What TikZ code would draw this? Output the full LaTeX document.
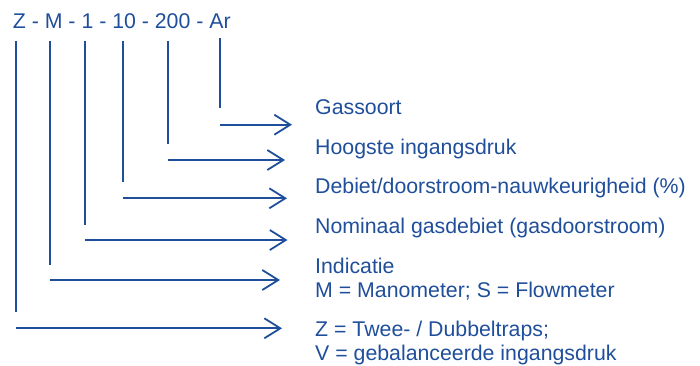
\documentclass[tikz,border=0pt]{standalone}
\usepackage{fontspec}
\setmainfont{Liberation Sans}
\usetikzlibrary{arrows.meta}
\definecolor{codeblue}{RGB}{31,78,155}

\tikzset{
  lbl/.style={anchor=base west, inner sep=0pt, text=codeblue, align=left,
    font=\fontsize{21.3}{24}\selectfont},
  lead/.style={draw=codeblue, line width=1.8pt},
  pointer/.style={lead, -{Straight Barb[length=16pt,width=20pt]}},
}

\begin{document}
\begin{tikzpicture}[x=1pt,y=-1pt]
	\useasboundingbox (0,0) rectangle (700,365);

	\node[lbl] (code) at (12.7,28.3) {Z - M - 1 - 10 - 200 - Ar};

	% two-line labels sit on the baseline of their last line
	\node[lbl] (gas)  at (315,114) {Gassoort};
	\node[lbl] (druk) at (315,154) {Hoogste ingangsdruk};
	\node[lbl] (acc)  at (315,193) {Debiet/doorstroom-nauwkeurigheid (\%)};
	\node[lbl] (flow) at (315,233) {Nominaal gasdebiet (gasdoorstroom)};
	\node[lbl] (ind)  at (315,297) {Indicatie\\M = Manometer; S = Flowmeter};
	\node[lbl] (type) at (315,360.5) {Z = Twee- / Dubbeltraps;\\V = gebalanceerde ingangsdruk};

	% leads from the code letters
	\coordinate (tZ)   at (15.6,41);  \coordinate (bZ)   at (15.6,312);
	\coordinate (tM)   at (50.3,41);  \coordinate (bM)   at (50.3,265);
	\coordinate (t1)   at (85.3,41);  \coordinate (b1)   at (85.3,225);
	\coordinate (t10)  at (122.6,41); \coordinate (b10)  at (122.6,182);
	\coordinate (t200) at (168.3,41); \coordinate (b200) at (168.3,144);
	\coordinate (tAr)  at (220,38);   \coordinate (bAr)  at (220,108);

	\draw[lead] (tZ) -- (bZ);
	\draw[lead] (tM) -- (bM);
	\draw[lead] (t1) -- (b1);
	\draw[lead] (t10) -- (b10);
	\draw[lead] (t200) -- (b200);
	\draw[lead] (tAr) -- (bAr);

	% arrows to the descriptions
	\coordinate (eAr)  at (292,124.7);
	\coordinate (e200) at (285,160);
	\coordinate (e10)  at (287,198.3);
	\coordinate (e1)   at (287.5,240);
	\coordinate (eM)   at (280,280);
	\coordinate (eZ)   at (282,328.3);

	\draw[pointer] (bAr |- eAr) -- (eAr);
	\draw[pointer] (b200 |- e200) -- (e200);
	\draw[pointer] (b10 |- e10) -- (e10);
	\draw[pointer] (b1 |- e1) -- (e1);
	\draw[pointer] (bM |- eM) -- (eM);
	\draw[pointer] (bZ |- eZ) -- (eZ);

\end{tikzpicture}
\end{document}
